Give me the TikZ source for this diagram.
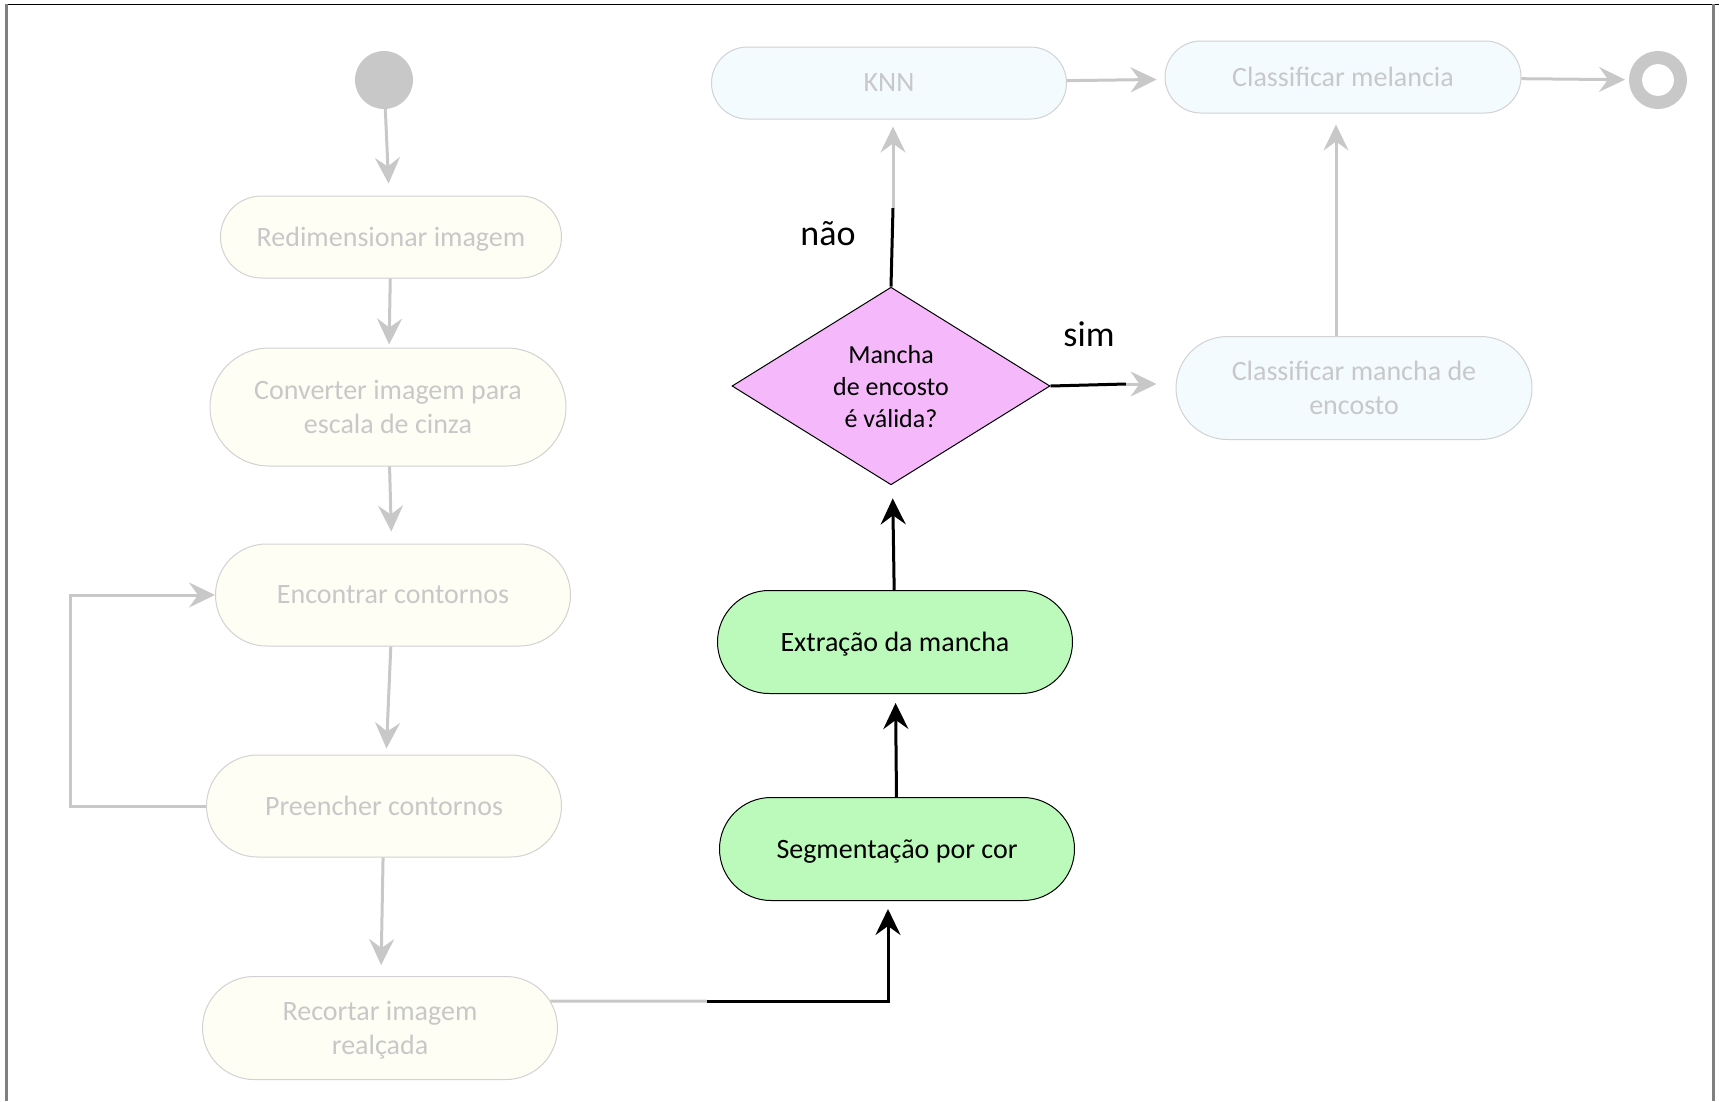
\documentclass[tikz,border=0pt]{standalone}
\usepackage{fontspec}
\setmainfont{Carlito}
\usetikzlibrary{shapes.misc,shapes.geometric,arrows.meta}
\definecolor{linhacinza}{RGB}{200,200,200}
\definecolor{textocinza}{RGB}{200,200,200}
\definecolor{bordacinza}{RGB}{210,210,210}
\definecolor{creme}{RGB}{254,254,245}
\definecolor{azulclaro}{RGB}{243,251,254}
\definecolor{verdeclaro}{RGB}{187,250,187}
\definecolor{rosaclaro}{RGB}{245,184,250}
\definecolor{moldura}{RGB}{128,128,128}
\tikzset{
    ponta/.tip={Stealth[length=26pt,width=25pt,inset=9pt]},
    passo/.style={rounded rectangle, draw=bordacinza, line width=1pt, fill=creme, text=textocinza,
        minimum width=355pt, minimum height=102pt, inner sep=0pt, align=center, text depth=0pt,
        font=\fontsize{28}{34}\selectfont},
    passoazul/.style={passo, fill=azulclaro},
    passoverde/.style={passo, fill=verdeclaro, draw=black, text=black},
    decisao/.style={diamond, draw=black, line width=1pt, fill=rosaclaro, minimum width=318pt,
        minimum height=195pt, inner sep=0pt, align=center, text depth=0pt, font=\fontsize{26}{32}\selectfont},
    rotulo/.style={font=\fontsize{36}{40}\selectfont},
    setacinza/.style={draw=linhacinza, line width=3pt, -ponta},
    linhacinza/.style={draw=linhacinza, line width=3pt},
    setapreta/.style={draw=black, line width=3pt, -ponta},
    linhapreta/.style={draw=black, line width=3pt}
}
\begin{document}
\begin{tikzpicture}[x=1pt,y=-1pt]
    \useasboundingbox (0,0) rectangle (1719,1101);
    \draw [black, line width=1.5pt] (6,4.5) -- (1719,4.5);
    \draw [moldura, line width=2.5pt] (6.5,4) -- (6.5,1101);
    \draw [moldura, line width=2.5pt] (1713.5,4) -- (1713.5,1101);

    \node [circle, fill=linhacinza, minimum size=58pt, inner sep=0pt] (ini) at (384,80) {};
    \node [passo, minimum width=341pt, minimum height=82pt] (redim) at (391,237) {Redimensionar imagem};
    \node [passo, minimum width=356pt, minimum height=118pt] (conv) at (388,407) {Converter imagem para\\escala de cinza};
    \node [passo] (enc) at (393,595) {Encontrar contornos};
    \node [passo] (pre) at (384,806) {Preencher contornos};
    \node [passo, minimum height=103pt] (rec) at (380,1028) {Recortar imagem\\realçada};

    \node [passoverde, minimum height=103pt] (seg) at (897,849) {Segmentação por cor};
    \node [passoverde, minimum height=103pt] (ext) at (895,642) {Extração da mancha};
    \node [decisao] (dec) at (891,386) {Mancha\\de encosto\\é válida?};

    \node [passoazul, minimum height=72pt] (knn) at (889,83) {KNN};
    \node [passoazul, minimum width=356pt, minimum height=72pt] (cmel) at (1343,77) {Classificar melancia};
    \node [passoazul, minimum width=356pt, minimum height=103pt] (cman) at (1354,388) {Classificar mancha de\\encosto};
    \node [circle, draw=linhacinza, line width=13pt, minimum size=45pt, inner sep=0pt] (fim) at (1658,80) {};

    \node [rotulo] (nao) at (828,234) {não};
    \node [rotulo] (sim) at (1089,334) {sim};

    \coordinate (recj) at (707,1001);
    \coordinate (segj) at (888,1001);
    \coordinate (naoj) at (893,208);
    \coordinate (simj) at (1126,384);

    \draw [setacinza, shorten >=12pt] (ini) -- (redim);
    \draw [setacinza, shorten >=3pt] (redim) -- (conv);
    \draw [setacinza, shorten >=12pt] (conv) -- (enc);
    \draw [setacinza, shorten >=6pt] (enc) -- (pre);
    \draw [setacinza, shorten >=11pt] (pre) -- (rec);
    \draw [setacinza] (pre.west) -- ++(-136,0) |- (enc.west);

    \draw [linhacinza] (rec.9) -- (recj);
    \draw [setapreta, shorten >=8pt] (recj) -- (segj) -- (segj |- seg.south);
    \draw [setapreta, shorten >=9pt] (seg) -- (ext);
    \draw [setapreta, shorten >=14pt] (ext) -- (dec);

    \draw [linhapreta] (dec.north) -- (naoj);
    \draw [setacinza, shorten >=7pt] (naoj) -- (naoj |- knn.south);
    \draw [linhapreta] (dec.east) -- (simj);
    \draw [setacinza, shorten >=19pt] (simj) -- (simj -| cman.west);

    \draw [setacinza, shorten >=8pt] (knn) -- (cmel);
    \draw [setacinza, shorten >=4pt] (cmel) -- (fim);
    \draw [setacinza, shorten >=11pt] ([xshift=-18pt]cman.north) -- ([xshift=-18pt]cman.north |- cmel.south);
\end{tikzpicture}
\end{document}
